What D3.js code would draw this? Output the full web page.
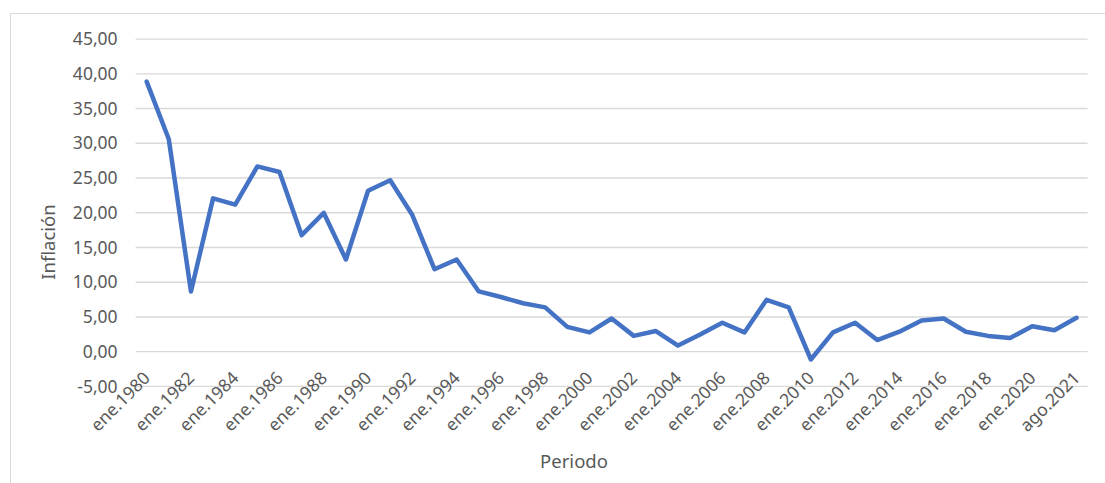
<!DOCTYPE html>
<html>
<head>
<meta charset="utf-8">
<script src="https://cdn.jsdelivr.net/npm/d3@7"></script>
<style>
  body { margin: 0; background: #fff; }
  text { font-family: "Noto Sans", "Open Sans", sans-serif; fill: #595959; }
</style>
</head>
<body>
<div id="chart"></div>
<script>
// categories (annual, January) plus the last August reading
var periods = ["ene.1980", "ene.1981", "ene.1982", "ene.1983", "ene.1984", "ene.1985",
  "ene.1986", "ene.1987", "ene.1988", "ene.1989", "ene.1990", "ene.1991", "ene.1992",
  "ene.1993", "ene.1994", "ene.1995", "ene.1996", "ene.1997", "ene.1998", "ene.1999",
  "ene.2000", "ene.2001", "ene.2002", "ene.2003", "ene.2004", "ene.2005", "ene.2006",
  "ene.2007", "ene.2008", "ene.2009", "ene.2010", "ene.2011", "ene.2012", "ene.2013",
  "ene.2014", "ene.2015", "ene.2016", "ene.2017", "ene.2018", "ene.2019", "ene.2020",
  "ene.2021", "ago.2021"];

// inflation values
var inflation = [38.8, 30.5, 8.6, 22.0, 21.1, 26.6, 25.8, 16.7, 19.9, 13.2, 23.1, 24.6, 19.6,
  11.8, 13.2, 8.6, 7.8, 6.9, 6.3, 3.5, 2.7, 4.7, 2.2, 2.9, 0.8, 2.4, 4.1, 2.7, 7.4, 6.3,
  -1.2, 2.7, 4.1, 1.6, 2.8, 4.4, 4.7, 2.8, 2.2, 1.9, 3.6, 3.0, 4.8];

// tick labels
var yTicks = [-5, 0, 5, 10, 15, 20, 25, 30, 35, 40, 45];
var xTickLabels = periods.filter(function(p, i) { return i % 2 === 0; });

var svgWidth = 1105;
var svgHeight = 483;

var margin = {
  top: 38.6,
  right: 17.4,
  bottom: 97.1,
  left: 135.6
};

var width = svgWidth - margin.left - margin.right;
var height = svgHeight - margin.top - margin.bottom;

var svg = d3.select("#chart")
  .append("svg")
  .attr("width", svgWidth)
  .attr("height", svgHeight);

// chart area border (cut off at right and bottom in the picture)
svg.append("rect")
  .attr("x", 10.5)
  .attr("y", 13.5)
  .attr("width", 1120)
  .attr("height", 500)
  .attr("fill", "none")
  .attr("stroke", "#d9d9d9")
  .attr("stroke-width", 1);

var chartGroup = svg.append("g")
  .attr("transform", `translate(${margin.left}, ${margin.top})`);

var esLocale = d3.formatLocale({
  decimal: ",",
  thousands: ".",
  grouping: [3],
  currency: ["", " €"],
  minus: "-"
});
var fmt = esLocale.format(".2f");

var xScale = d3.scalePoint()
  .domain(periods)
  .range([0, width])
  .padding(0.5);

var yScale = d3.scaleLinear()
  .domain([-5, 45])
  .range([height, 0]);

// y axis with gridlines
var leftAxis = d3.axisLeft(yScale)
  .tickValues(yTicks)
  .tickSize(-width)
  .tickPadding(18)
  .tickFormat(fmt);

var yAxis = chartGroup.append("g")
  .call(leftAxis);
yAxis.select(".domain").remove();
yAxis.selectAll("line")
  .attr("stroke", "#d9d9d9")
  .attr("stroke-width", 1.4);
yAxis.selectAll("text")
  .attr("dy", "0.35em")
  .style("font-size", "17.5px");

// x axis labels, rotated
var bottomAxis = d3.axisBottom(xScale)
  .tickValues(xTickLabels)
  .tickSize(0);

var xAxis = chartGroup.append("g")
  .attr("transform", `translate(0, ${yScale(0)})`)
  .call(bottomAxis);
xAxis.select(".domain").remove();
xAxis.selectAll("text")
  .attr("x", 0)
  .attr("y", 0)
  .attr("dy", 0)
  .attr("transform", "translate(4, 28) rotate(-45)")
  .style("text-anchor", "end")
  .style("font-size", "17.5px");

// line
var line = d3.line()
  .x(function(d, i) { return xScale(periods[i]); })
  .y(function(d) { return yScale(d); });

chartGroup.append("path")
  .datum(inflation)
  .attr("d", line)
  .attr("fill", "none")
  .attr("stroke", "#4472c4")
  .attr("stroke-width", 4.5)
  .attr("stroke-linejoin", "round")
  .attr("stroke-linecap", "round");

// axis titles
svg.append("text")
  .attr("transform", "translate(55, 242) rotate(-90)")
  .style("text-anchor", "middle")
  .style("font-size", "18.5px")
  .text("Inflación");

svg.append("text")
  .attr("x", 574)
  .attr("y", 468)
  .style("text-anchor", "middle")
  .style("font-size", "18.5px")
  .text("Periodo");
</script>
</body>
</html>
